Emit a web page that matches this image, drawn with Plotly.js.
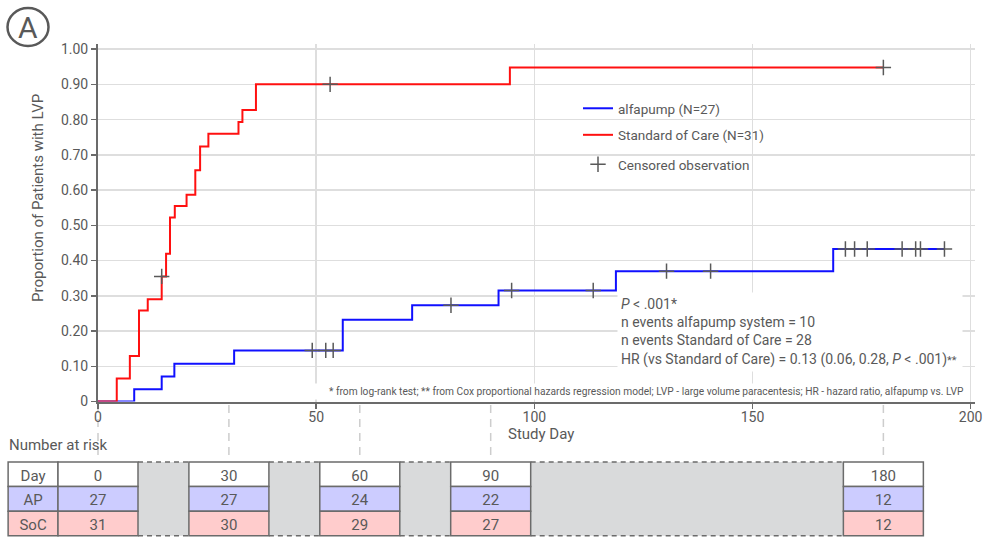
<!DOCTYPE html>
<html><head><meta charset="utf-8">
<script src="https://cdn.plot.ly/plotly-3.0.1.min.js"></script>
<style>html,body{margin:0;padding:0;background:#fff}#chart{width:984px;height:554px}</style>
</head><body><div id="chart"></div>
<script>
// ---------------- data ----------------
const socDays = [0, 4.3, 7.3, 9.4, 11.4, 14.6, 15.6, 16.5, 17.6, 20.3, 22.3, 23.4, 25.3, 32.2, 33.1, 36.2, 94.4, 180];
const socProb = [0, 0.065, 0.129, 0.258, 0.290, 0.355, 0.419, 0.522, 0.555, 0.587, 0.656, 0.724, 0.760, 0.793, 0.827, 0.900, 0.948, 0.948];
const socCensorDays = [14.6, 53.2, 180];
const socCensorProb = [0.355, 0.900, 0.948];
const apDays = [0, 8.3, 14.6, 17.5, 31.2, 56.1, 72.0, 91.8, 118.7, 168.5, 194.0];
const apProb = [0, 0.035, 0.071, 0.107, 0.145, 0.232, 0.273, 0.315, 0.370, 0.433, 0.433];
const apCensorDays = [49.1, 52.2, 53.9, 80.9, 94.8, 113.5, 130.3, 140.4, 171.3, 173.4, 176.3, 184.3, 187.4, 188.5, 194.0];
const apCensorProb = [0.145, 0.145, 0.145, 0.273, 0.315, 0.315, 0.370, 0.370, 0.433, 0.433, 0.433, 0.433, 0.433, 0.433, 0.433];
const riskDays = [0, 30, 60, 90, 180];
const riskAP = [27, 27, 24, 22, 12];
const riskSoC = [31, 30, 29, 27, 12];
const rowLabels = ['Day', 'AP', 'SoC'];
const xTickVals = [0, 50, 100, 150, 200];
const yTickVals = [0, 0.1, 0.2, 0.3, 0.4, 0.5, 0.6, 0.7, 0.8, 0.9, 1.0];
const yTickText = ['0', '0.10', '0.20', '0.30', '0.40', '0.50', '0.60', '0.70', '0.80', '0.90', '1.00'];

// ---------------- geometry / style ----------------
const W = 984, H = 554;
const plotL = 98, plotR = 975, plotT = 43.5, plotB = 401.5;
const xRange = [0, 201], yRange = [0, 1.016];
const pxPerDay = (plotR - plotL) / (xRange[1] - xRange[0]);
const tableTop = 462, rowH = 24.6, pad = 0.1;
const tableBot = tableTop + 3 * rowH;
const cellHalf = 40 / pxPerDay;          // half cell width in days
const labelLeft = -20.6;                 // left edge of label column (days)
const labelCenter = (labelLeft + (riskDays[0] - cellHalf)) / 2;
const textNudge = 0.1;                   // vertical text centring tweak (rows)
const FONT = 'Roboto, "Liberation Sans", sans-serif';
const GREY = '#595959';
const LINEC = '#6b6b6b';
const rowFill = ['#ffffff', '#ccccff', '#ffcccc'];
const py = p => 1 - p / H;
const px = p => p / W;

// ---------------- traces ----------------
const censorMarker = {symbol: 'cross-thin', size: 11, color: GREY, line: {width: 1.5, color: GREY}};
const traces = [
  {x: apDays, y: apProb, mode: 'lines', line: {shape: 'hv', color: '#1010ff', width: 2},
   name: 'alfapump (N=27)', legend: 'legend', legendgroup: 'ap', hoverinfo: 'skip'},
  {x: socDays, y: socProb, mode: 'lines', line: {shape: 'hv', color: '#ff1010', width: 2},
   name: 'Standard of Care (N=31)', legend: 'legend', legendgroup: 'soc', hoverinfo: 'skip'},
  {x: socCensorDays, y: socCensorProb, mode: 'markers', marker: censorMarker, showlegend: false, hoverinfo: 'skip'},
  {x: apCensorDays, y: apCensorProb, mode: 'markers', marker: censorMarker,
   name: 'Censored observation', legend: 'legend2', hoverinfo: 'skip'}
];

// risk table text
const tX = [], tY = [], tT = [];
rowLabels.forEach((l, r) => { tX.push(labelCenter); tY.push(r + 0.5 + textNudge); tT.push(l); });
riskDays.forEach((d, i) => {
  tX.push(d, d, d); tY.push(0.5 + textNudge, 1.5 + textNudge, 2.5 + textNudge);
  tT.push(String(d), String(riskAP[i]), String(riskSoC[i]));
});
traces.push({x: tX, y: tY, text: tT, mode: 'text', xaxis: 'x2', yaxis: 'y2',
  textfont: {family: FONT, size: 15, color: GREY}, showlegend: false, hoverinfo: 'skip'});

// ---------------- shapes ----------------
const shapes = [];
// gaps between columns
for (let i = 0; i < riskDays.length - 1; i++) {
  const a = riskDays[i] + cellHalf, b = riskDays[i + 1] - cellHalf;
  shapes.push({type: 'rect', xref: 'x2', yref: 'y2', x0: a, x1: b, y0: 0, y1: 3,
    fillcolor: '#d9dadb', line: {width: 0}, layer: 'below'});
  [0, 3].forEach(yy => shapes.push({type: 'line', xref: 'x2', yref: 'y2', x0: a, x1: b, y0: yy, y1: yy,
    line: {color: LINEC, width: 1.5, dash: '5px,4px'}, layer: 'below'}));
}
// cells
for (let r = 0; r < 3; r++) {
  shapes.push({type: 'rect', xref: 'x2', yref: 'y2', x0: labelLeft, x1: riskDays[0] - cellHalf,
    y0: r, y1: r + 1, fillcolor: rowFill[r], line: {color: LINEC, width: 1.5}, layer: 'below'});
  riskDays.forEach(d => shapes.push({type: 'rect', xref: 'x2', yref: 'y2', x0: d - cellHalf, x1: d + cellHalf,
    y0: r, y1: r + 1, fillcolor: rowFill[r], line: {color: LINEC, width: 1.5}, layer: 'below'}));
}
// dashed guides from axis to table
riskDays.forEach(d => shapes.push({type: 'line', xref: 'x2', yref: 'paper', x0: d, x1: d,
  y0: py(405), y1: py(460), line: {color: '#cdcdcd', width: 1.5, dash: '8px,6px'}, layer: 'below'}));
// circled A
shapes.push({type: 'circle', xref: 'paper', yref: 'paper', x0: px(7.5), x1: px(48.5), y0: py(8), y1: py(46),
  line: {color: GREY, width: 2.5}});

// ---------------- annotations ----------------
const annotations = [
  {text: 'A', x: px(28), y: py(27.5), xref: 'paper', yref: 'paper', showarrow: false,
   font: {family: FONT, size: 30, color: GREY}, xanchor: 'center', yanchor: 'middle'},
  {text: 'Proportion of Patients with LVP', textangle: -90, x: px(38), y: py(198), xref: 'paper', yref: 'paper',
   showarrow: false, font: {family: FONT, size: 15, color: GREY}, xanchor: 'center', yanchor: 'middle'},
  {text: 'Study Day', x: px(541), y: py(434), xref: 'paper', yref: 'paper', showarrow: false,
   font: {family: FONT, size: 15, color: GREY}, xanchor: 'center', yanchor: 'middle'},
  {text: 'Number at risk', x: px(7), y: py(445), xref: 'paper', yref: 'paper', showarrow: false,
   font: {family: FONT, size: 15, color: GREY}, xanchor: 'left', yanchor: 'middle'},
  {text: '<i>P</i> < .001*<br>n events alfapump system = 10<br>n events Standard of Care = 28<br>HR (vs Standard of Care) = 0.13 (0.06, 0.28, <i>P</i> < .001)<span style="font-size:11px">**</span>',
   x: px(617), y: py(292), xref: 'paper', yref: 'paper', showarrow: false, align: 'left',
   xanchor: 'left', yanchor: 'top', width: 338, borderpad: 3, bgcolor: '#ffffff',
   font: {family: FONT, size: 14, color: GREY}},
  {text: '* from log-rank test; ** from Cox proportional hazards regression model; LVP - large volume paracentesis; HR - hazard ratio, alfapump vs. LVP',
   x: px(300), y: py(391.5), xref: 'paper', yref: 'paper', showarrow: false, align: 'right',
   xanchor: 'left', yanchor: 'middle', width: 661, bgcolor: '#ffffff', borderpad: 2,
   font: {family: FONT, size: 10.2, color: GREY}}
];

// ---------------- layout ----------------
const axisCommon = {showline: true, linecolor: LINEC, linewidth: 2, ticks: 'outside', tickcolor: LINEC,
  tickwidth: 1.5, showgrid: true, gridcolor: '#dedede', gridwidth: 1.5, zeroline: false,
  tickfont: {family: FONT, size: 14, color: GREY}, fixedrange: true};
const layout = {
  width: W, height: H, margin: {l: 0, r: 0, t: 0, b: 0},
  paper_bgcolor: '#ffffff', plot_bgcolor: 'rgba(0,0,0,0)',
  font: {family: FONT, color: GREY},
  xaxis: Object.assign({}, axisCommon, {domain: [px(plotL), px(plotR)], range: xRange, anchor: 'y',
    tickmode: 'array', tickvals: xTickVals, ticklen: 5, ticklabelstandoff: -3}),
  yaxis: Object.assign({}, axisCommon, {domain: [py(plotB), py(plotT)], range: yRange, anchor: 'x',
    tickmode: 'array', tickvals: yTickVals, ticktext: yTickText, ticklen: 5}),
  xaxis2: {domain: [0, 1], range: [-plotL / pxPerDay, (W - plotL) / pxPerDay], anchor: 'y2', visible: false, fixedrange: true},
  yaxis2: {domain: [py(tableBot + pad * rowH), py(tableTop - pad * rowH)], range: [3 + pad, -pad], anchor: 'x2', visible: false, fixedrange: true},
  legend: {x: px(578), y: py(93), xanchor: 'left', yanchor: 'top', bgcolor: 'rgba(0,0,0,0)',
    traceorder: 'grouped', tracegroupgap: 6,
    font: {family: FONT, size: 13.5, color: GREY}},
  legend2: {x: px(578), y: py(149), xanchor: 'left', yanchor: 'top', bgcolor: 'rgba(0,0,0,0)',
    font: {family: FONT, size: 13.5, color: GREY}},
  shapes: shapes, annotations: annotations, showlegend: true
};
Plotly.newPlot('chart', traces, layout, {staticPlot: true, displayModeBar: false});
</script></body></html>
